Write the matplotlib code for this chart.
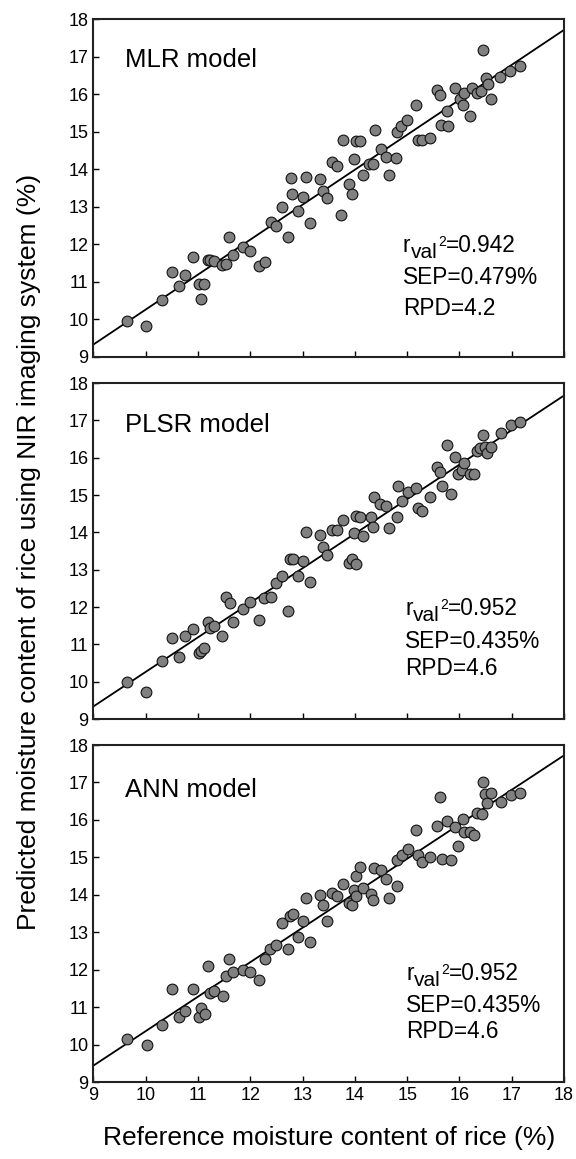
import numpy as np
import matplotlib
matplotlib.use("Agg")
import matplotlib.pyplot as plt

plt.rcParams["font.family"] = ["Liberation Sans", "DejaVu Sans"]

# ----------------
# DATA
# ----------------
mlr_ref = [9.65, 10.01, 10.31, 10.50, 10.64, 10.76, 10.90, 11.02, 11.05, 11.12,
           11.19, 11.23, 11.31, 11.45, 11.53, 11.60, 11.67, 11.86, 12.00, 12.17,
           12.29, 12.39, 12.50, 12.61, 12.73, 12.77, 12.80, 12.91, 13.00, 13.07,
           13.14, 13.33, 13.40, 13.46, 13.57, 13.65, 13.74, 13.77, 13.89, 13.94,
           13.98, 14.03, 14.09, 14.15, 14.28, 14.35, 14.38, 14.50, 14.59, 14.66,
           14.79, 14.80, 14.89, 15.00, 15.16, 15.21, 15.28, 15.43, 15.58, 15.62,
           15.65, 15.76, 15.79, 15.92, 16.01, 16.06, 16.09, 16.20, 16.25, 16.33,
           16.41, 16.46, 16.50, 16.54, 16.60, 16.78, 16.97, 17.15]
mlr_pred = [9.96, 9.83, 10.51, 11.25, 10.88, 11.19, 11.67, 10.93, 10.55, 10.93,
            11.58, 11.58, 11.56, 11.44, 11.47, 12.19, 11.71, 11.93, 11.82, 11.42,
            11.53, 12.60, 12.48, 12.99, 12.19, 13.76, 13.35, 12.88, 13.26, 13.78,
            12.58, 13.75, 13.41, 13.23, 14.20, 14.08, 12.79, 14.79, 13.60, 13.35,
            14.28, 14.74, 14.74, 13.84, 14.14, 14.15, 15.05, 14.54, 14.33, 13.84,
            14.29, 14.99, 15.15, 15.31, 15.71, 14.77, 14.77, 14.83, 16.10, 15.98,
            15.17, 15.55, 15.15, 16.15, 15.88, 15.72, 16.02, 15.41, 16.15, 16.02,
            16.08, 17.17, 16.44, 16.28, 15.86, 16.46, 16.61, 16.75]

plsr_ref = [9.65, 10.01, 10.31, 10.50, 10.64, 10.76, 10.90, 11.01, 11.06, 11.12,
            11.19, 11.23, 11.31, 11.45, 11.53, 11.61, 11.67, 11.86, 12.00, 12.17,
            12.27, 12.39, 12.50, 12.61, 12.73, 12.76, 12.81, 12.91, 13.00, 13.07,
            13.14, 13.33, 13.40, 13.46, 13.57, 13.65, 13.77, 13.89, 13.94, 14.02,
            13.98, 14.03, 14.09, 14.15, 14.30, 14.35, 14.37, 14.48, 14.59, 14.66,
            14.81, 14.83, 14.90, 15.02, 15.16, 15.21, 15.28, 15.43, 15.58, 15.63,
            15.66, 15.76, 15.83, 15.92, 15.97, 16.04, 16.09, 16.20, 16.27, 16.33,
            16.39, 16.45, 16.49, 16.53, 16.60, 16.79, 16.98, 17.15]
plsr_pred = [10.00, 9.73, 10.56, 11.16, 10.65, 11.23, 11.41, 10.78, 10.82, 10.91,
             11.61, 11.45, 11.49, 11.23, 12.28, 12.10, 11.59, 11.94, 12.13, 11.65,
             12.25, 12.28, 12.64, 12.82, 11.90, 13.29, 13.29, 12.82, 13.24, 14.00,
             12.68, 13.92, 13.62, 13.40, 14.07, 14.07, 14.32, 13.17, 13.28, 13.15,
             13.98, 14.45, 14.42, 13.89, 14.40, 14.14, 14.96, 14.76, 14.72, 14.11,
             14.42, 15.23, 14.83, 15.09, 15.18, 14.65, 14.58, 14.94, 15.75, 15.63,
             15.23, 16.35, 15.02, 16.02, 15.56, 15.68, 15.85, 15.56, 15.56, 16.17,
             16.26, 16.60, 16.30, 16.12, 16.30, 16.66, 16.88, 16.95]

ann_ref = [9.65, 10.02, 10.31, 10.50, 10.64, 10.76, 10.90, 11.01, 11.05, 11.13,
           11.19, 11.23, 11.31, 11.47, 11.53, 11.60, 11.67, 11.86, 12.00, 12.17,
           12.28, 12.38, 12.50, 12.61, 12.73, 12.76, 12.81, 12.91, 13.00, 13.07,
           13.14, 13.33, 13.40, 13.46, 13.57, 13.65, 13.77, 13.89, 13.94, 13.98,
           14.03, 14.03, 14.10, 14.15, 14.30, 14.35, 14.37, 14.50, 14.59, 14.66,
           14.80, 14.80, 14.90, 15.01, 15.16, 15.21, 15.28, 15.43, 15.58, 15.63,
           15.66, 15.76, 15.83, 15.92, 15.98, 16.06, 16.09, 16.20, 16.27, 16.33,
           16.43, 16.45, 16.49, 16.53, 16.60, 16.79, 16.98, 17.16]
ann_pred = [10.15, 9.99, 10.53, 11.49, 10.73, 10.90, 11.49, 10.73, 10.99, 10.81,
            12.09, 11.38, 11.42, 11.30, 11.82, 12.29, 11.93, 12.00, 11.95, 11.73,
            12.28, 12.55, 12.67, 13.24, 12.55, 13.44, 13.49, 12.86, 13.29, 13.91,
            12.73, 14.00, 13.73, 13.29, 14.06, 13.97, 14.29, 13.78, 13.73, 14.13,
            13.96, 14.51, 14.73, 14.18, 14.02, 13.87, 14.71, 14.67, 14.42, 13.91,
            14.24, 14.93, 15.07, 15.22, 15.72, 15.07, 14.87, 15.00, 15.84, 16.62,
            14.95, 15.96, 14.92, 15.81, 15.31, 16.03, 15.69, 15.69, 15.60, 16.18,
            16.16, 17.00, 16.69, 16.46, 16.71, 16.49, 16.67, 16.73]

model_names = ["MLR model", "PLSR model", "ANN model"]
stats_r2 = ["0.942", "0.952", "0.952"]
stats_sep = ["0.479%", "0.435%", "0.435%"]
stats_rpd = ["4.2", "4.6", "4.6"]

panels = [(mlr_ref, mlr_pred), (plsr_ref, plsr_pred), (ann_ref, ann_pred)]

# ----------------
# LAYOUT
# ----------------
left, width = 0.1623, 0.8168
boxes = [(0.6920, 0.2916), (0.3796, 0.2899), (0.0664, 0.2908)]
name_y = [16.71, 16.69, 16.62]
stat_x = [14.92, 14.96, 14.98]
stat_y = [(11.79, 10.94, 10.12), (11.79, 10.90, 10.18), (11.72, 10.88, 10.18)]
FS = 16.3

fig = plt.figure(figsize=(5.76, 11.59), dpi=100)

for i, (ref, pred) in enumerate(panels):
    ax = fig.add_axes([left, boxes[i][0], width, boxes[i][1]])
    ref = np.array(ref)
    pred = np.array(pred)

    slope, icpt = np.polyfit(ref, pred, 1)
    xl = np.array([9, 18])
    ax.plot(xl, slope * xl + icpt, color="black", lw=1.3, zorder=2)

    ax.scatter(ref, pred, s=60, facecolor="#808080", edgecolor="#111111",
               linewidths=0.8, zorder=3)

    ax.set_xlim(9, 18)
    ax.set_ylim(9, 18)
    ax.set_xticks(range(9, 19))
    ax.set_yticks(range(9, 19))
    ax.tick_params(direction="in", length=4, width=1, labelsize=13,
                   top=False, right=False)
    if i < 2:
        ax.tick_params(labelbottom=False)
    for sp in ax.spines.values():
        sp.set_linewidth(1.5)
        sp.set_color("#222222")

    ax.text(9.6, name_y[i], model_names[i], fontsize=18.5, va="baseline")

    # r_val^2 built from pieces so the subscript stays large
    y1, y2, y3 = stat_y[i]
    t_r = ax.text(stat_x[i], y1, "r", fontsize=FS, va="baseline")
    t_sub = ax.annotate("val", xy=(1, 0), xycoords=t_r, xytext=(0.2, -3.4),
                        textcoords="offset points", fontsize=15, va="bottom")
    t_sup = ax.annotate("2", xy=(1, 0), xycoords=(t_sub, t_r), xytext=(0.3, 5.8),
                        textcoords="offset points", fontsize=10, va="bottom")
    ax.annotate("=" + stats_r2[i], xy=(1, 0), xycoords=(t_sup, t_r),
                xytext=(0, 0), textcoords="offset points", fontsize=FS,
                va="bottom")
    ax.text(stat_x[i], y2, "SEP=" + stats_sep[i], fontsize=FS, va="baseline")
    ax.text(stat_x[i], y3, "RPD=" + stats_rpd[i], fontsize=FS, va="baseline")

    if i == 2:
        ax.set_xlabel("Reference moisture content of rice (%)", fontsize=19,
                      labelpad=16)

fig.text(0.051, 0.524, "Predicted moisture content of rice using NIR imaging system (%)",
         rotation=90, fontsize=19, ha="center", va="center")

fig.savefig("out.png", dpi=100, facecolor="white")
